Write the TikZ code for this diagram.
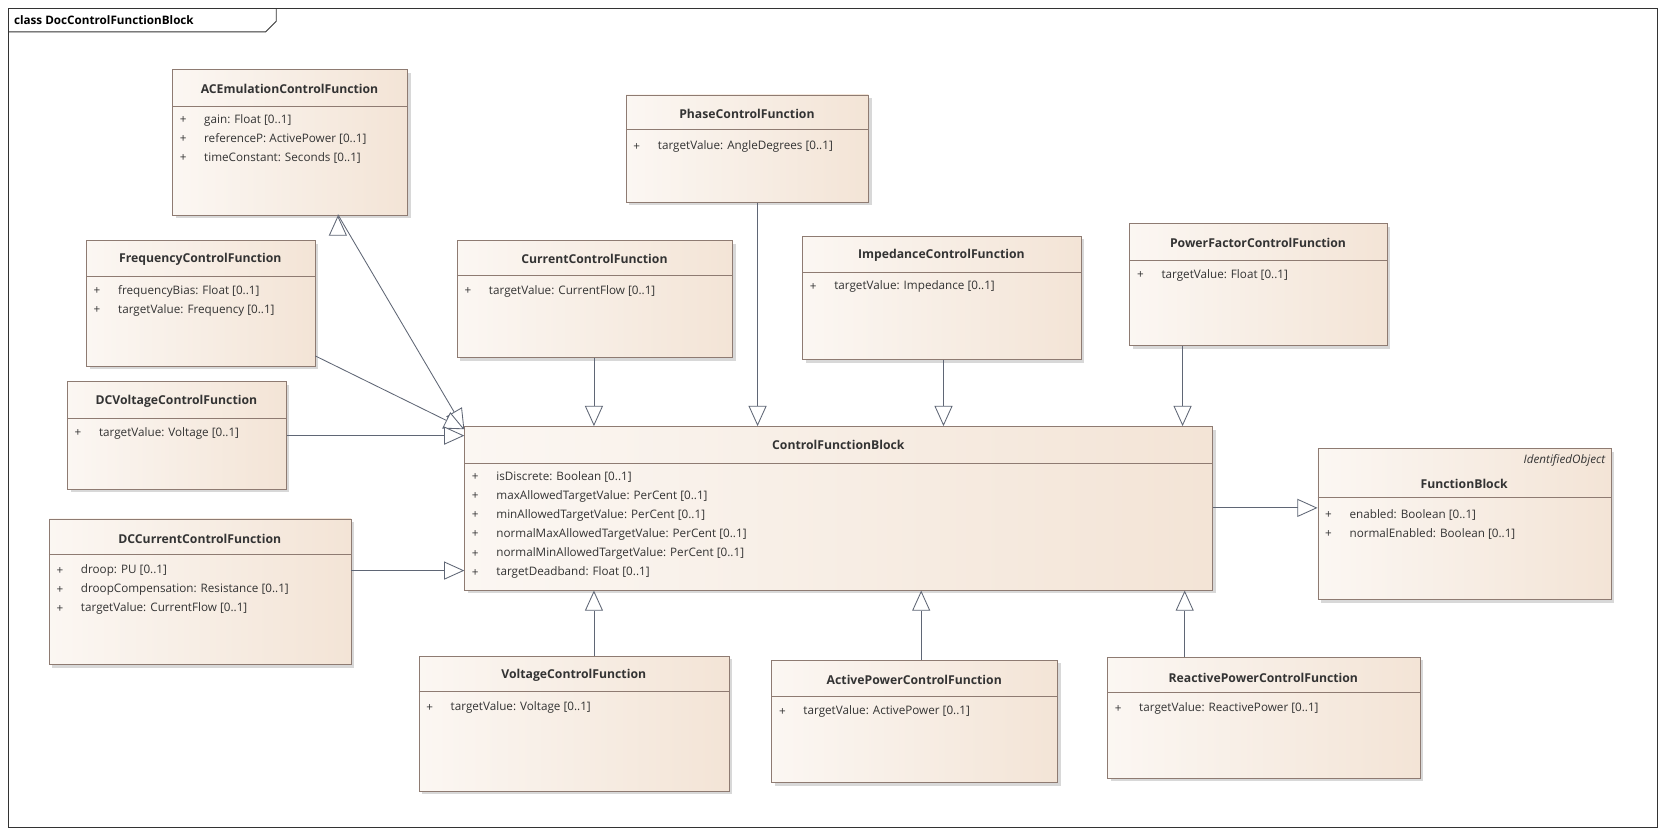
\documentclass[tikz,border=0pt]{standalone}
\usepackage{fontspec}
\setmainfont{Open Sans}
\usetikzlibrary{arrows.meta,shadows}
\definecolor{bord}{HTML}{8E7B72}
\definecolor{beige}{HTML}{F3E4D6}
\definecolor{txt}{HTML}{333333}
\definecolor{lin}{HTML}{5F6675}
\tikzset{
  cls/.style={draw=bord,line width=0.8pt,left color=white!70!beige,right color=beige,
    drop shadow={shadow xshift=3pt,shadow yshift=-3pt,fill=black!25,opacity=0.6},
    anchor=north west,inner sep=0pt},
  ttl/.style={font=\fontsize{11.5}{13}\selectfont\bfseries,text=txt,inner sep=0pt},
  att/.style={font=\fontsize{11}{13}\selectfont,text=txt,anchor=west,inner sep=0pt},
  gen/.style={draw=lin,line width=0.8pt,-{Triangle[open,length=19pt,width=17pt,fill=white]}},
}
% \umlc{name}{l}{t}{r}{b}{headerline}{title y}{title}
\newcommand{\umlc}[8]{%
  \pgfmathsetmacro{\ww}{#4-#2}\pgfmathsetmacro{\hh}{#5-#3}%
  \node[cls,minimum width=\ww pt,minimum height=\hh pt] (#1) at (#2,#3) {};
  \draw[bord,line width=0.8pt] (#2,#6) -- (#4,#6);
  \node[ttl] (#1t) at ({(#2+#4)/2},#7) {#8};}
\newcommand{\attr}[3]{% x y text
  \node[att] at (#1+7,#2) {+};
  \node[att] at (#1+30,#2) {#3};}
\begin{document}
\begin{tikzpicture}[x=1pt,y=-1pt]
\useasboundingbox[fill=white] (0,0) rectangle (1568,788);
\draw[black!80,line width=0.8pt] (8,8) rectangle (1560,779);
\draw[black!80,line width=0.8pt] (8,30) -- (250,30) -- (260,20) -- (260,8);
\node[font=\fontsize{11}{13}\selectfont\bfseries,anchor=west,inner sep=0pt] (frm) at (13,19) {class DocControlFunctionBlock};

\umlc{ac}{162}{65}{383}{202}{100}{84}{ACEmulationControlFunction}
\attr{162}{113}{gain: Float [0..1]}
\attr{162}{131}{referenceP: ActivePower [0..1]}
\attr{162}{149}{timeConstant: Seconds [0..1]}

\umlc{ph}{589}{89}{817}{190}{122}{107}{PhaseControlFunction}
\attr{589}{138}{targetValue: AngleDegrees [0..1]}

\umlc{fr}{81}{226}{296}{344}{260}{244}{FrequencyControlFunction}
\attr{81}{274}{frequencyBias: Float [0..1]}
\attr{81}{292}{targetValue: Frequency [0..1]}

\umlc{cu}{430}{226}{689}{336}{259}{244}{CurrentControlFunction}
\attr{430}{274}{targetValue: CurrentFlow [0..1]}

\umlc{im}{755}{222}{1017}{338}{256}{240}{ImpedanceControlFunction}
\attr{755}{270}{targetValue: Impedance [0..1]}

\umlc{pf}{1063}{210}{1305}{325}{245}{229}{PowerFactorControlFunction}
\attr{1063}{259}{targetValue: Float [0..1]}

\umlc{dv}{63}{359}{269}{460}{394}{378}{DCVoltageControlFunction}
\attr{63}{408}{targetValue: Voltage [0..1]}

\umlc{cfb}{437}{401}{1141}{555}{436}{419}{ControlFunctionBlock}
\attr{437}{449}{isDiscrete: Boolean [0..1]}
\attr{437}{467}{maxAllowedTargetValue: PerCent [0..1]}
\attr{437}{485}{minAllowedTargetValue: PerCent [0..1]}
\attr{437}{503}{normalMaxAllowedTargetValue: PerCent [0..1]}
\attr{437}{521}{normalMinAllowedTargetValue: PerCent [0..1]}
\attr{437}{539}{targetDeadband: Float [0..1]}

\umlc{fb}{1240}{422}{1516}{564}{468}{455}{FunctionBlock}
\node[att,anchor=east,font=\fontsize{11}{13}\selectfont\itshape] (fbs) at (1511,433) {IdentifiedObject};
\attr{1240}{485}{enabled: Boolean [0..1]}
\attr{1240}{503}{normalEnabled: Boolean [0..1]}

\umlc{dc}{46}{488}{330}{625}{522}{507}{DCCurrentControlFunction}
\attr{46}{537}{droop: PU [0..1]}
\attr{46}{555}{droopCompensation: Resistance [0..1]}
\attr{46}{573}{targetValue: CurrentFlow [0..1]}

\umlc{vo}{394}{617}{686}{744}{651}{636}{VoltageControlFunction}
\attr{394}{666}{targetValue: Voltage [0..1]}

\umlc{ap}{726}{621}{995}{736}{655}{640}{ActivePowerControlFunction}
\attr{726}{670}{targetValue: ActivePower [0..1]}

\umlc{rp}{1042}{618}{1336}{732}{652}{638}{ReactivePowerControlFunction}
\attr{1042}{667}{targetValue: ReactivePower [0..1]}

% connectors
\coordinate (t1) at (437,404);
\coordinate (t2) at (437,410);
\draw[gen] (ac.south west -| 318,0) ++(0,0) coordinate (s1);
\draw[gen] (318,202) -- (t1);
\draw[gen] (fr.east |- 0,335) -- (t1);
\draw[gen] (dv.east |- 0,410) -- (t2);
\draw[gen] (dc.east |- 0,537) -- (cfb.west |- 0,537);
\draw[gen] (cu.south -| 559,0) -- (cfb.north -| 559,0);
\draw[gen] (ph.south -| 713,0) -- (cfb.north -| 713,0);
\draw[gen] (im.south -| 888,0) -- (cfb.north -| 888,0);
\draw[gen] (pf.south -| 1113,0) -- (cfb.north -| 1113,0);
\draw[gen] (vo.north -| 559,0) -- (cfb.south -| 559,0);
\draw[gen] (ap.north -| 867,0) -- (cfb.south -| 867,0);
\draw[gen] (rp.north -| 1115,0) -- (cfb.south -| 1115,0);
\draw[gen] (cfb.east |- 0,478) -- (fb.west |- 0,478);
\end{tikzpicture}
\end{document}
